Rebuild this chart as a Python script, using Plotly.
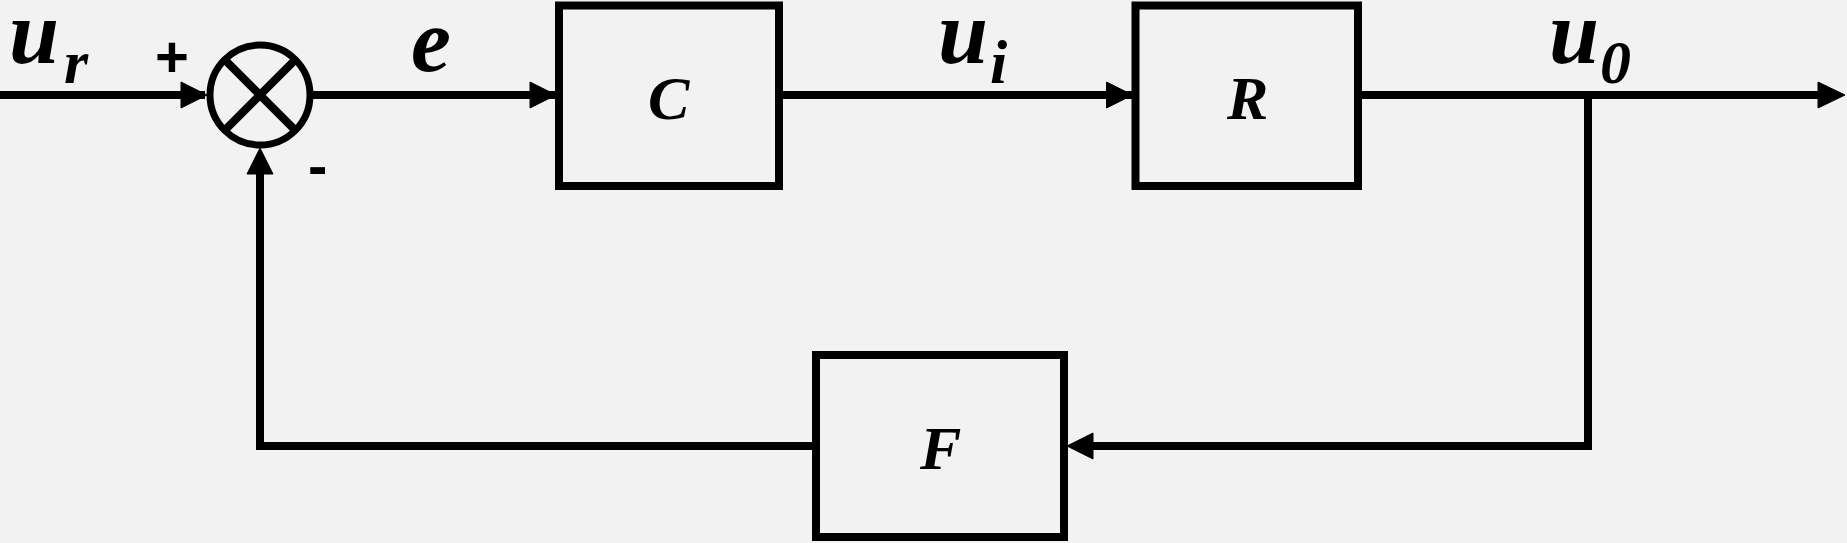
import plotly.graph_objects as go

# block diagram content
block_names = ["C", "R", "F"]
signal_names = ["u", "e", "u", "u"]
signal_subs = ["r", "", "i", "0"]
junction_signs = ["+", "-"]

W, H = 1847, 543
LW = 8
INK = "#000000"
SERIF = "Liberation Serif"

# layout of the diagram (pixel units on the axes)
main_y = 95
fb_y = 446
sum_x, sum_y, sum_r = 260, 95, 50
boxes = {"C": (559, 5.5, 779, 186), "R": (1135.5, 5.5, 1358, 186), "F": (816, 355, 1064, 537)}
branch_x = 1588

fig = go.Figure()
shapes = []


def line(x0, y0, x1, y1):
    shapes.append(dict(type="line", x0=x0, y0=y0, x1=x1, y1=y1, xref="x", yref="y",
                       line=dict(color=INK, width=LW)))


def arrow(tx, ty, direction, length=26, half=13):
    # filled triangle, tip at (tx, ty)
    if direction == "right":
        pts = [(tx, ty), (tx - length, ty - half), (tx - length, ty + half)]
    elif direction == "left":
        pts = [(tx, ty), (tx + length, ty - half), (tx + length, ty + half)]
    else:  # up
        pts = [(tx, ty), (tx - half, ty + length), (tx + half, ty + length)]
    path = "M " + " L ".join(f"{x},{y}" for x, y in pts) + " Z"
    shapes.append(dict(type="path", path=path, xref="x", yref="y",
                       fillcolor=INK, line=dict(color=INK, width=1)))


# forward path
line(0, main_y, sum_x - sum_r - 5, main_y)
arrow(sum_x - sum_r - 3, main_y, "right")
line(sum_x + sum_r, main_y, boxes["C"][0], main_y)
arrow(boxes["C"][0] - 3, main_y, "right")
line(boxes["C"][2], main_y, boxes["R"][0], main_y)
arrow(boxes["R"][0] - 3, main_y, "right")
line(boxes["R"][2], main_y, W - 20, main_y)
arrow(W - 2, main_y, "right", length=27)

# feedback path
line(branch_x, main_y, branch_x, fb_y + LW / 2)
line(branch_x + LW / 2, fb_y, boxes["F"][2] + 10, fb_y)
arrow(boxes["F"][2] + 3, fb_y, "left")
line(boxes["F"][0], fb_y, sum_x - LW / 2, fb_y)
line(sum_x, fb_y + LW / 2, sum_x, sum_y + sum_r + 20)
arrow(sum_x, sum_y + sum_r + 3, "up")

# blocks
for name in block_names:
    x0, y0, x1, y1 = boxes[name]
    shapes.append(dict(type="rect", x0=x0, y0=y0, x1=x1, y1=y1, xref="x", yref="y",
                       line=dict(color=INK, width=LW), fillcolor="rgba(0,0,0,0)"))

# summing junction
shapes.append(dict(type="circle", x0=sum_x - sum_r, y0=sum_y - sum_r, x1=sum_x + sum_r,
                   y1=sum_y + sum_r, xref="x", yref="y", line=dict(color=INK, width=7)))
d = sum_r * 0.707
line(sum_x - d, sum_y - d, sum_x + d, sum_y + d)
line(sum_x - d, sum_y + d, sum_x + d, sum_y - d)

annotations = []


def label(x, y, text, size, family=SERIF, italic=True):
    annotations.append(dict(x=x, y=y, xref="x", yref="y", text=text, showarrow=False,
                            xanchor="center", yanchor="middle",
                            font=dict(family=family, size=size, color=INK, weight="bold",
                                      style="italic" if italic else "normal")))


# block labels
for name in block_names:
    x0, y0, x1, y1 = boxes[name]
    label((x0 + x1) / 2, (y0 + y1) / 2 + 2, name, 62)

# signal labels
sig_pos = [(34, 76), (431, 0), (963, 998), (1574, 1615)]
for (mx, sx), name, sub in zip(sig_pos, signal_names, signal_subs):
    if name == "e":
        label(mx, 40, name, 90)
        continue
    label(mx, 32, name, 90)
    label(sx, 62, sub, 62)

# junction signs
label(172, 56, junction_signs[0], 58, family="Liberation Sans", italic=False)
label(317, 165, junction_signs[1], 58, family="Liberation Sans", italic=False)

fig.update_layout(
    width=W, height=H,
    margin=dict(l=0, r=0, t=0, b=0),
    paper_bgcolor="#f2f2f2", plot_bgcolor="#f2f2f2",
    xaxis=dict(range=[0, W], visible=False, fixedrange=True),
    yaxis=dict(range=[H, 0], visible=False, fixedrange=True),
    shapes=shapes, annotations=annotations, showlegend=False,
)

fig.write_html("out.html", config={"displayModeBar": False},
               post_script="document.body.style.margin='0';")
